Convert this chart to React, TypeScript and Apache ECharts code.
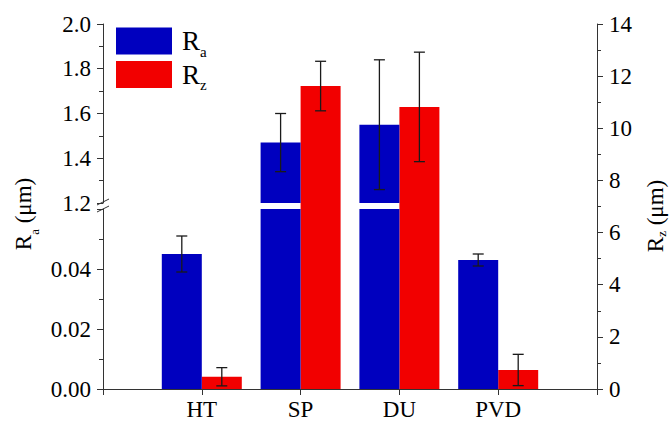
import React, { useEffect, useRef } from 'react';
import * as echarts from 'echarts';

// ---- data ----
const categories = ['HT', 'SP', 'DU', 'PVD'];
const raValues = [0.045, 1.47, 1.55, 0.043]; // Ra (μm)
const raErrors = [0.006, 0.13, 0.29, 0.002];
const rzValues = [0.47, 11.62, 10.82, 0.73]; // Rz (μm)
const rzErrors = [0.35, 0.95, 2.1, 0.6];

// axis ranges
const raUpperRange = [1.2, 2.0];
const raUpperStep = 0.2;
const raLowerRange = [0, 0.06];
const raLowerStep = 0.02;
const rzRange = [0, 14];
const rzStep = 2;

const FONT = 'Liberation Serif';
const BLUE = '#0000bf';
const RED = '#f20000';
const AXIS = '#333333';

const xCats = ['', ...categories, ' '];

const raPairs = categories.map((c, i) => [c, raValues[i]]);
const rzPairs = categories.map((c, i) => [c, rzValues[i]]);
const raErrData = categories.map((c, i) => [c, raValues[i], raErrors[i]]);
const rzErrData = categories.map((c, i) => [c, rzValues[i], rzErrors[i]]);

const BAR_W = 40;

const errRender = (offset: number) => (params: any, api: any) => {
  const xi = api.value(0);
  const v = api.value(1);
  const e = api.value(2);
  const top = api.coord([xi, v + e]);
  const bot = api.coord([xi, v - e]);
  const x = top[0] + offset;
  const half = 5.5;
  const style = { stroke: '#1a1a1a', lineWidth: 1.3 };
  return {
    type: 'group',
    children: [
      { type: 'line', shape: { x1: x, y1: top[1], x2: x, y2: bot[1] }, style },
      { type: 'line', shape: { x1: x - half, y1: top[1], x2: x + half, y2: top[1] }, style },
      { type: 'line', shape: { x1: x - half, y1: bot[1], x2: x + half, y2: bot[1] }, style },
    ],
  };
};

const nameRich = {
  r: { fontSize: 23, fontFamily: FONT, color: '#000', lineHeight: 36 },
  s: { fontSize: 13, fontFamily: FONT, color: '#000', lineHeight: 10, verticalAlign: 'bottom' },
};
const nameRichRight = {
  r: { fontSize: 23, fontFamily: FONT, color: '#000', lineHeight: 26 },
  s: { fontSize: 13, fontFamily: FONT, color: '#000', lineHeight: 6, verticalAlign: 'bottom' },
};

export default function App() {
  const ref = useRef<HTMLDivElement>(null);
  useEffect(() => {
    if (!ref.current) return;
    const chart = echarts.init(ref.current, undefined, { renderer: 'svg' });
    const grids = [
      { left: 103, right: 73, top: 24, bottom: 33, outerBoundsMode: 'none', containLabel: false },
      { left: 103, right: 73, top: 24, height: 179, outerBoundsMode: 'none', containLabel: false },
      { left: 103, right: 73, top: 209, bottom: 33, outerBoundsMode: 'none', containLabel: false },
    ];
    const hiddenX = (gi: number) => ({
      gridIndex: gi,
      type: 'category',
      data: xCats,
      boundaryGap: false,
      show: false,
    });
    const labelStyle = { fontFamily: FONT, fontSize: 23, color: '#000' };
    const option: any = {
      animation: false,
      backgroundColor: '#fff',
      textStyle: { fontFamily: FONT },
      grid: grids,
      xAxis: [
        {
          gridIndex: 0,
          type: 'category',
          data: xCats,
          boundaryGap: false,
          position: 'bottom',
          axisLine: { show: true, lineStyle: { color: AXIS, width: 1 } },
          axisTick: { show: true, inside: false, length: 6, interval: 0, lineStyle: { color: AXIS } },
          axisLabel: { ...labelStyle, margin: 9, interval: 0 },
          splitLine: { show: false },
        },
        {
          gridIndex: 0,
          type: 'category',
          data: xCats,
          boundaryGap: false,
          position: 'top',
          axisLine: { show: true, lineStyle: { color: AXIS, width: 1 } },
          axisTick: { show: false },
          axisLabel: { show: false },
          splitLine: { show: false },
        },
        hiddenX(1),
        hiddenX(2),
      ],
      yAxis: [
        {
          gridIndex: 0,
          type: 'value',
          position: 'right',
          min: rzRange[0],
          max: rzRange[1],
          interval: rzStep,
          axisLine: { show: true, lineStyle: { color: AXIS, width: 1 } },
          axisTick: { show: true, inside: false, length: 6, lineStyle: { color: AXIS } },
          minorTick: { show: true, splitNumber: 2, length: 4, lineStyle: { color: AXIS } },
          axisLabel: { ...labelStyle, margin: 12 },
          splitLine: { show: false },
          name: '{r|R}{s|z}{t| (μm)}',
          nameLocation: 'middle',
          nameRotate: 90,
          nameGap: 45,
          nameTextStyle: {
            fontFamily: FONT,
            rich: { ...nameRichRight, t: { ...nameRichRight.r, padding: [0, 19, 0, 0] } },
          },
        },
        {
          gridIndex: 0,
          type: 'value',
          position: 'left',
          min: 0,
          max: 1,
          axisLine: { show: false },
          axisTick: { show: false },
          axisLabel: { show: false },
          splitLine: { show: false },
          name: '{r|R}{s|a}{t| (μm)}',
          nameLocation: 'middle',
          nameRotate: 90,
          nameGap: 62,
          nameTextStyle: {
            fontFamily: FONT,
            rich: { ...nameRich, t: { ...nameRich.r, padding: [0, 15, 0, 0] } },
          },
        },
        {
          gridIndex: 1,
          type: 'value',
          position: 'left',
          min: raUpperRange[0],
          max: raUpperRange[1],
          interval: raUpperStep,
          axisLine: { show: true, lineStyle: { color: AXIS, width: 1 } },
          axisTick: { show: true, inside: false, length: 6, lineStyle: { color: AXIS } },
          minorTick: { show: true, splitNumber: 2, length: 4, lineStyle: { color: AXIS } },
          axisLabel: { ...labelStyle, margin: 12, formatter: (v: number) => v.toFixed(1) },
          splitLine: { show: false },
        },
        {
          gridIndex: 2,
          type: 'value',
          position: 'left',
          min: raLowerRange[0],
          max: raLowerRange[1],
          interval: raLowerStep,
          axisLine: { show: true, lineStyle: { color: AXIS, width: 1 } },
          axisTick: { show: true, inside: false, length: 6, lineStyle: { color: AXIS } },
          minorTick: { show: true, splitNumber: 2, length: 4, lineStyle: { color: AXIS } },
          axisLabel: {
            ...labelStyle,
            margin: 12,
            formatter: (v: number) => (v >= raLowerRange[1] - 1e-9 ? '' : v.toFixed(2)),
          },
          splitLine: { show: false },
        },
      ],
      legend: {
        data: ['Ra', 'Rz'],
        orient: 'vertical',
        left: 116,
        top: 27.5,
        padding: 0,
        itemWidth: 56,
        itemHeight: 27,
        itemGap: 2,
        icon: 'rect',
        selectedMode: false,
        formatter: (n: string) => (n === 'Ra' ? '{r|R}{s|a}' : '{r|R}{s|z}'),
        textStyle: {
          fontFamily: FONT,
          rich: {
            r: { fontSize: 27, fontFamily: FONT, color: '#000', lineHeight: 36, padding: [0, 0, 0, 5] },
            s: { fontSize: 15, fontFamily: FONT, color: '#000', lineHeight: 10, verticalAlign: 'bottom' },
          },
        },
      },
      graphic: [
        {
          type: 'line',
          shape: { x1: 97, y1: 205, x2: 109, y2: 199 },
          style: { stroke: AXIS, lineWidth: 1 },
        },
        {
          type: 'line',
          shape: { x1: 97, y1: 212, x2: 109, y2: 206 },
          style: { stroke: AXIS, lineWidth: 1 },
        },
      ],
      series: [
        { name: 'ghostA', type: 'bar', xAxisIndex: 0, yAxisIndex: 0, data: [], barWidth: BAR_W, barGap: '0%' },
        {
          name: 'Rz',
          type: 'bar',
          xAxisIndex: 0,
          yAxisIndex: 0,
          data: rzPairs,
          barWidth: BAR_W,
          barGap: '0%',
          itemStyle: { color: RED },
        },
        {
          name: 'Ra',
          type: 'bar',
          xAxisIndex: 2,
          yAxisIndex: 2,
          data: raPairs,
          barWidth: BAR_W,
          barGap: '0%',
          clip: true,
          itemStyle: { color: BLUE },
        },
        { name: 'ghostZ1', type: 'bar', xAxisIndex: 2, yAxisIndex: 2, data: [], barWidth: BAR_W, barGap: '0%' },
        {
          name: 'Ra',
          type: 'bar',
          xAxisIndex: 3,
          yAxisIndex: 3,
          data: raPairs,
          barWidth: BAR_W,
          barGap: '0%',
          clip: true,
          itemStyle: { color: BLUE },
        },
        { name: 'ghostZ2', type: 'bar', xAxisIndex: 3, yAxisIndex: 3, data: [], barWidth: BAR_W, barGap: '0%' },
        {
          name: 'errZ',
          type: 'custom',
          xAxisIndex: 0,
          yAxisIndex: 0,
          data: rzErrData,
          encode: { x: 0, y: 1 },
          renderItem: errRender(BAR_W / 2),
          z: 5,
          clip: true,
        },
        {
          name: 'errA1',
          type: 'custom',
          xAxisIndex: 2,
          yAxisIndex: 2,
          data: raErrData,
          encode: { x: 0, y: 1 },
          renderItem: errRender(-BAR_W / 2),
          z: 5,
          clip: true,
        },
        {
          name: 'errA2',
          type: 'custom',
          xAxisIndex: 3,
          yAxisIndex: 3,
          data: raErrData,
          encode: { x: 0, y: 1 },
          renderItem: errRender(-BAR_W / 2),
          z: 5,
          clip: true,
        },
      ],
    };
    chart.setOption(option);
    return () => chart.dispose();
  }, []);
  return (
    <div
      ref={ref}
      style={{ position: 'fixed', left: 0, top: 0, width: 670, height: 422, background: '#fff' }}
    />
  );
}
